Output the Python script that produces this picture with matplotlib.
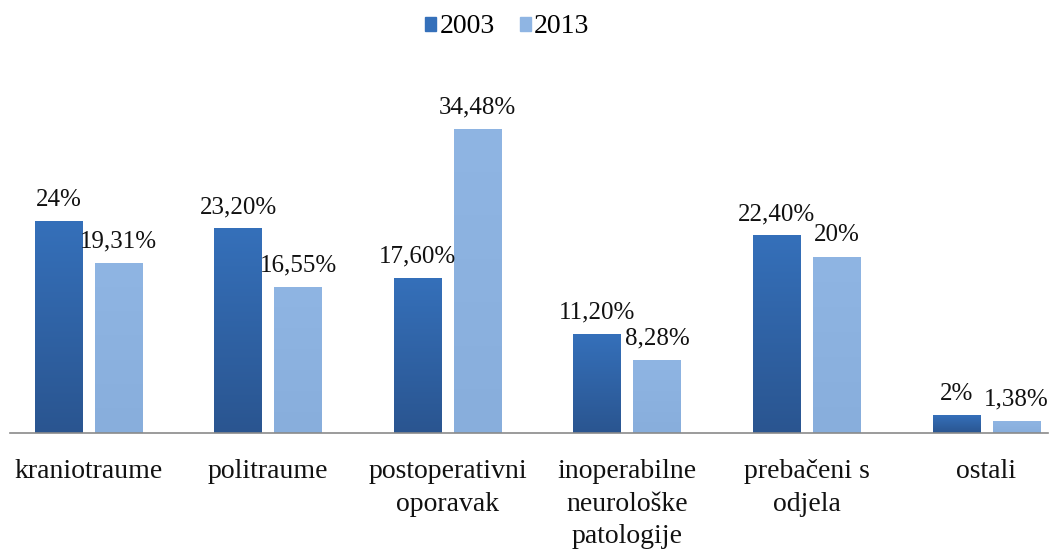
import numpy as np
import matplotlib
matplotlib.use("Agg")
import matplotlib.pyplot as plt
from matplotlib.colors import LinearSegmentedColormap
from matplotlib.patches import Patch

categories = ["kraniotraume", "politraume", "postoperativni\noporavak",
              "inoperabilne\nneurološke\npatologije", "prebačeni s\nodjela", "ostali"]
vals_2003 = [24, 23.2, 17.6, 11.2, 22.4, 2]
vals_2013 = [19.31, 16.55, 34.48, 8.28, 20, 1.38]
labels_2003 = ["24%", "23,20%", "17,60%", "11,20%", "22,40%", "2%"]
labels_2013 = ["19,31%", "16,55%", "34,48%", "8,28%", "20%", "1,38%"]
series = ["2003", "2013"]

plt.rcParams['font.family'] = ['Liberation Serif', 'DejaVu Serif']

fig = plt.figure(figsize=(10.52, 5.5), dpi=100)
ax = fig.add_axes([10/1052, 117/550, 1038/1052, 353/550])

x = np.arange(len(categories))
w = 0.267
off = 0.167

dark_top, dark_bot = "#3570ba", "#2a5590"
light_top, light_bot = "#8fb5e3", "#88aedc"

bars1 = ax.bar(x - off, vals_2003, w, color=dark_bot, zorder=2)
bars2 = ax.bar(x + off, vals_2013, w, color=light_top, zorder=2)

def gradient(bars, ctop, cbot):
    cmap = LinearSegmentedColormap.from_list("g", [cbot, ctop])
    grad = np.linspace(0, 1, 256).reshape(-1, 1)
    for b in bars:
        x0, y0 = b.get_x(), b.get_y()
        x1, y1 = x0 + b.get_width(), y0 + b.get_height()
        im = ax.imshow(grad, cmap=cmap, aspect='auto', origin='lower',
                       extent=[x0, x1, y0, y1], zorder=2.5)
        im.set_clip_path(b)

gradient(bars1, dark_top, dark_bot)
gradient(bars2, light_top, light_bot)
ax.set_xlim((10-88.5)/179.6, (1048-88.5)/179.6)
ax.set_ylim(0, 40)

for bars, labs in ((bars1, labels_2003), (bars2, labels_2013)):
    for b, lab in zip(bars, labs):
        ax.annotate(lab, (b.get_x() + b.get_width()/2, b.get_height()),
                    xytext=(0, 11), textcoords='offset points', ha='center',
                    va='baseline', fontsize=18, color='#111111')

for s in ['top', 'right', 'left']:
    ax.spines[s].set_visible(False)
ax.spines['bottom'].set_color('#8a8a8a')
ax.spines['bottom'].set_linewidth(1.2)
ax.set_yticks([])
ax.set_xticks(x)
ax.set_xticklabels(categories, fontsize=20, color='#111111', linespacing=1.38)
ax.tick_params(axis='x', length=0, pad=19)

handles = [Patch(color=dark_top), Patch(color=light_top)]
fig.legend(handles, series, loc='center', bbox_to_anchor=(0.482, 0.951), ncol=2,
           frameon=False, fontsize=20, handlelength=0.4, handleheight=0.4,
           handletextpad=0.1, columnspacing=0.9)

fig.savefig("out.png", dpi=100)
